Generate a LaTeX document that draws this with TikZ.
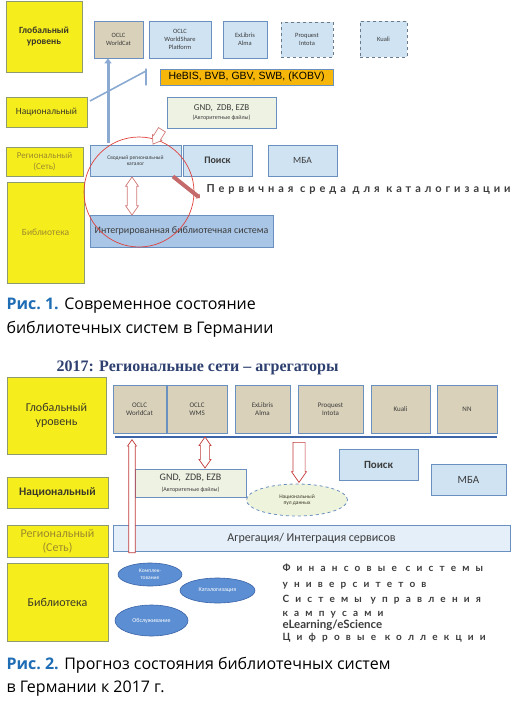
\documentclass[tikz,border=0pt]{standalone}
\usepackage{fontspec}
\setmainfont{Carlito}
\newfontfamily\capfont{Open Sans}
\newfontfamily\kopffont{Liberation Serif}
\newfontfamily\arialfont{Liberation Sans}
\newfontfamily\latofont{Lato}
\newfontfamily\sperrfont[LetterSpace=36]{Lato}
\newfontfamily\sperrfontw[LetterSpace=62]{Lato}
\usetikzlibrary{arrows.meta,shapes.geometric,shapes.arrows}
\newcommand\schrift[1]{\fontsize{#1}{\dimexpr#1pt*6/5\relax}\selectfont}
\definecolor{gelb}{HTML}{F6EE1C}
\definecolor{gelbr}{HTML}{8E9A70}
\definecolor{oliv}{HTML}{9C8A2C}
\definecolor{dunkel}{HTML}{3A3828}
\definecolor{sand}{HTML}{D9D1B9}
\definecolor{hblau}{HTML}{CFE3F3}
\definecolor{mblau}{HTML}{A9C6E6}
\definecolor{blau}{HTML}{6A90C0}
\definecolor{dblau}{HTML}{3C64A8}
\definecolor{pfblau}{HTML}{8AAAD2}
\definecolor{elfen}{HTML}{EEF2E2}
\definecolor{orang}{HTML}{F6B60A}
\definecolor{rosa}{HTML}{D27A78}
\definecolor{rot}{HTML}{C23A3A}
\definecolor{kreis}{HTML}{E0403A}
\definecolor{ovalb}{HTML}{5B8ED2}
\definecolor{hauch}{HTML}{E4EFF9}
\definecolor{poolg}{HTML}{EEF3DC}
\definecolor{capblau}{HTML}{1F6DB5}
\definecolor{kopfblau}{HTML}{2E4070}
\definecolor{grau}{HTML}{3C3C3C}
\definecolor{strichgrau}{HTML}{6A7A8A}
\definecolor{zeigerrot}{HTML}{C46A6A}
\tikzset{
  ebene/.style={fill=gelb,draw=gelbr,line width=0.6pt,align=center,inner sep=1pt},
  kasten/.style={draw=blau,line width=0.8pt,align=center,inner sep=1pt,text=grau},
  sandk/.style={kasten,fill=sand},
  blauk/.style={kasten,fill=hblau},
  strichk/.style={kasten,fill=hblau,draw=strichgrau,dashed},
  pfeil/.style={single arrow,draw=rosa,fill=white,line width=0.7pt,inner sep=0pt,
    single arrow tip angle=70,single arrow head extend=1pt},
  dpfeil/.style={double arrow,draw=rosa,fill=white,line width=0.7pt,inner sep=0pt,
    double arrow tip angle=70,double arrow head extend=1pt},
  ovalk/.style={ellipse,fill=ovalb,draw=dblau,line width=0.6pt,inner sep=0pt,text=white,align=center},
  hoch/.style={-{Triangle[length=5pt,width=7pt]},pfblau,line width=3pt},
  linie/.style={pfblau,line width=1.6pt},
  zeigerpf/.style={-{Triangle[length=3pt,width=6pt]},zeigerrot,line width=4pt},
  bus/.style={dblau,line width=2.6pt},
  liste/.style={anchor=base west,font=\sperrfontw\bfseries\schrift{10},text=grau},
  capt/.style={anchor=base west,font=\capfont\schrift{16},text=black},
}
\begin{document}
\begin{tikzpicture}[x=1pt,y=-1pt]
  \useasboundingbox (0,0) rectangle (514,701);
  \node[ebene,minimum width=76,minimum height=71,text=dunkel,font=\bfseries\schrift{9.5}] (glob1) at (44,36.5) {Глобальный\\уровень};
  \node[sandk,minimum width=49,minimum height=37,font=\schrift{6.5}] (wc1) at (118.5,39.5) {OCLC\\WorldCat};
  \node[blauk,minimum width=62,minimum height=37,font=\schrift{6.5}] (wsp) at (180,39.5) {OCLC\\WorldShare\\Platform};
  \node[blauk,minimum width=44,minimum height=37,font=\schrift{6.5}] (alma1) at (245,39.5) {ExLibris\\Alma};
  \node[strichk,minimum width=52,minimum height=35,font=\schrift{6.5}] (intota1) at (307,39.5) {Proquest\\Intota};
  \node[strichk,minimum width=47,minimum height=36,font=\schrift{6.5}] (kuali1) at (383.5,39.5) {Kuali};
  \node[kasten,fill=orang,minimum width=173,minimum height=16,font=\arialfont\schrift{10.5},text=black] (verb) at (246.5,77) {HeBIS, BVB, GBV, SWB, (KOBV)};
  \node[ebene,minimum width=81,minimum height=30,text=dunkel,font=\schrift{9.5}] (nat1) at (46.5,112) {Национальный};
  \node[kasten,fill=elfen,minimum width=109,minimum height=31,font=\schrift{9}] (gnd1) at (221.5,112.5) {GND,~ ZDB, EZB\\[-1pt]{\schrift{6}(Авторитетные файлы)}};
  \node[ebene,minimum width=77,minimum height=29,text=oliv,font=\schrift{9}] (reg1) at (44.5,161.5) {Региональный\\(Сеть)};
  \node[blauk,minimum width=91,minimum height=31,font=\schrift{5.5}] (svod) at (135.5,160.5) {Сводный региональный\\каталог};
  \node[blauk,minimum width=69,minimum height=31,font=\bfseries\schrift{10}] (suche1) at (217.5,160.5) {Поиск};
  \node[blauk,minimum width=69,minimum height=31,font=\schrift{9.5}] (mba1) at (302.5,160.5) {МБА};
  \node[ebene,minimum width=77,minimum height=101,text=oliv,font=\schrift{9.5}] (bib1) at (45.5,232.5) {Библиотека};
  \node[kasten,fill=mblau,minimum width=183,minimum height=32,font=\schrift{10}] (ibs) at (181.5,231) {Интегрированная библиотечная система};
  \node[draw=kreis,line width=0.7pt,circle,minimum size=110] (ring) at (139,192) {};
  \node[dpfeil,inner ysep=2.5pt,minimum width=13,minimum height=38,rotate=90] (dp1) at (132,196) {};
  \node[pfeil,inner ysep=2.5pt,minimum width=11,minimum height=17,rotate=238] (p1) at (159,134.5) {};
  \coordinate (fuss) at (108,143);
  \draw[hoch] (fuss) -- (fuss |- wc1.south);
  \coordinate (d1) at (90,101);
  \coordinate (d2) at (146,71);
  \draw[linie] (d1) -- (d2) (d2 |- verb.north) -- (d2 |- verb.south);
  \node[anchor=base west,font=\sperrfont\bfseries\schrift{11},text=grau] (erst) at (203,192) {Первичная среда для каталогизации};
  \coordinate (zeiger) at (200,198);
  \draw[zeigerpf] (svod.-23) -- (zeiger);
  \node[capt] (cap1a) at (3,309) {\textcolor{capblau}{\bfseries Рис.~1.} Современное состояние};
  \node[capt] (cap1b) at (3,333) {библиотечных систем в Германии};

  \node[anchor=base west,font=\kopffont\bfseries\schrift{16},text=kopfblau] (kopf) at (53,371) {2017: Региональные сети – агрегаторы};
  \node[ebene,minimum width=99,minimum height=77,text=dunkel,font=\schrift{12}] (glob2) at (56.5,415.5) {Глобальный\\уровень};
  \node[sandk,minimum width=53,minimum height=48,font=\schrift{7}] (wc2) at (139.5,409) {OCLC\\WorldCat};
  \node[sandk,minimum width=60,minimum height=48,font=\schrift{7}] (wms) at (197,409) {OCLC\\WMS};
  \node[sandk,minimum width=55,minimum height=48,font=\schrift{7}] (alma2) at (262.5,409) {ExLibris\\Alma};
  \node[sandk,minimum width=65,minimum height=48,font=\schrift{7}] (intota2) at (330.5,409) {Proquest\\Intota};
  \node[sandk,minimum width=59,minimum height=48,font=\schrift{7}] (kuali2) at (400.5,409) {Kuali};
  \node[sandk,minimum width=60,minimum height=48,font=\schrift{7}] (nn) at (467,409) {NN};
  \coordinate (busl) at (115,437);
  \draw[bus] (busl) -- (busl -| nn.east);
  \node[ebene,minimum width=101,minimum height=31,text=dunkel,font=\bfseries\schrift{11.5}] (nat2) at (57.5,492.5) {Национальный};
  \node[kasten,fill=elfen,minimum width=111,minimum height=28,font=\schrift{10}] (gnd2) at (190.5,483) {GND,~ ZDB, EZB\\[-1pt]{\schrift{6}(Авторитетные файлы)}};
  \node[ellipse,fill=poolg,draw=blau,dashed,line width=0.8pt,minimum width=101,minimum height=32,inner sep=0pt,align=center,text=dunkel,font=\schrift{5.5}] (pool) at (297,500) {Национальный\\пул данных};
  \node[blauk,minimum width=79,minimum height=31,font=\bfseries\schrift{11}] (suche2) at (378.5,464.5) {Поиск};
  \node[blauk,minimum width=75,minimum height=31,font=\schrift{11}] (mba2) at (468.5,479.5) {МБА};
  \node[ebene,minimum width=101,minimum height=32,text=oliv,font=\schrift{12}] (reg2) at (57.5,541) {Региональный\\(Сеть)};
  \node[kasten,fill=hauch,minimum width=397,minimum height=26,font=\schrift{12}] (aggr) at (311.5,538) {Агрегация/ Интеграция сервисов};
  \node[ebene,minimum width=101,minimum height=78,text=dunkel,font=\schrift{12}] (bib2) at (57.5,602) {Библиотека};
  \node[ovalk,minimum width=64,minimum height=23,font=\schrift{5.5}] (kompl) at (150,574.5) {Комплек-\\тование};
  \node[ovalk,minimum width=75,minimum height=25,font=\schrift{6}] (katal) at (217.5,590.5) {Каталогизация};
  \node[ovalk,minimum width=73,minimum height=31,font=\schrift{6}] (obsl) at (151.5,620.5) {Обслуживание};
  \node[pfeil,draw=rot,inner ysep=2.2pt,minimum width=9,minimum height=113,rotate=90] (p2) at (132,498.5) {};
  \node[dpfeil,draw=rot,inner ysep=3pt,minimum width=12,minimum height=31,rotate=90] (dp2) at (205,452.5) {};
  \node[pfeil,draw=rot,inner ysep=4pt,minimum width=15,minimum height=40,rotate=-90] (p3) at (299,458) {};
  \node[liste] (fin) at (279,571) {Финансовые системы};
  \node[liste] (uni) at (279,587) {университетов};
  \node[liste] (sys) at (279,602.5) {Системы управления};
  \node[liste] (camp) at (279,616) {кампусами};
  \node[liste,font=\latofont\bfseries\schrift{11.5}] (elearn) at (279,628) {eLearning/eScience};
  \node[liste] (digi) at (279,640.5) {Цифровые коллекции};
  \node[capt] (cap2a) at (3,669) {\textcolor{capblau}{\bfseries Рис.~2.} Прогноз состояния библиотечных систем};
  \node[capt] (cap2b) at (3,692) {в Германии к 2017 г.};
\end{tikzpicture}
\end{document}
